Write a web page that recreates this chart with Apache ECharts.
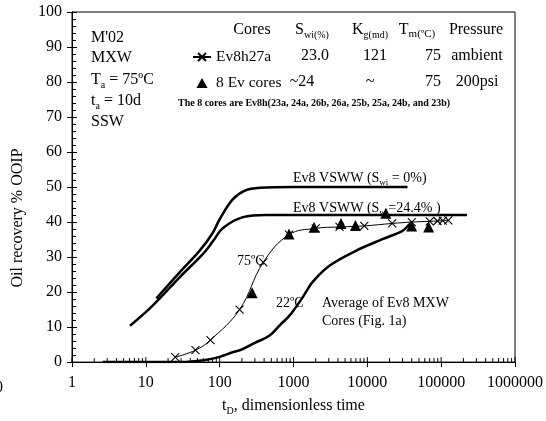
<!DOCTYPE html>
<html>
<head>
<meta charset="utf-8">
<script src="https://cdn.jsdelivr.net/npm/echarts@6/dist/echarts.min.js"></script>
<style>
  html, body { margin: 0; padding: 0; background: #fff; }
  #chart { width: 546px; height: 421px; }
</style>
</head>
<body>
<div id="chart"></div>
<script>
const FONT = '"Liberation Serif", "Times New Roman", serif';

// Ev8 VSWW reference curves [tD, recovery %]
const vsww0 = [[13.9, 18.2], [28.9, 25.7], [54, 31.9], [80, 36.8], [100, 40.8], [150, 46.5], [220, 49], [350, 49.8], [1000, 50], [35000, 50]];
const vsww244 = [[6.1, 10.4], [11.9, 15.8], [28.9, 24.3], [60, 31.0], [81, 34.5], [111, 38.3], [207, 41.4], [430, 42], [224000, 42]];

// Average of Ev8 MXW cores at 22 ºC
const avg22 = [[2.6, 0], [30, 0], [60, 0.5], [100, 1.5], [150, 2.8], [200, 3.6], [300, 5.5], [470, 7.5], [650, 10.5], [900, 13.5], [1340, 18.6], [1820, 22.9], [3100, 27.6], [7000, 31.8], [16000, 35.1], [30000, 37.5], [37000, 39.3], [40000, 40]];

// Ev8h27a at 75 ºC
const ev27aT = [25, 47, 75, 186, 390, 870, 2000, 4200, 9100, 21700, 40000, 70000, 89000, 105000, 125000];
const ev27aR = [1.4, 3.4, 6.3, 15.0, 28.5, 36.4, 38.2, 38.6, 38.9, 39.6, 40.0, 40.2, 40.3, 40.4, 40.5];

// 8 Ev cores at 75 ºC, 200 psi
const coresT = [275, 870, 1900, 4400, 6900, 17800, 39800, 67700];
const coresR = [19.8, 36.6, 38.5, 39.6, 39.0, 42.5, 38.9, 38.6];

// log-axis tick marks drawn on the inner side: [tD, 0, length]
const innerTicks = [];
for (let k = 0; k <= 6; k++) {
  const base = Math.pow(10, k);
  innerTicks.push([base, 0, 5]);
  if (k < 6) for (let m = 2; m <= 9; m++) innerTicks.push([m * base, 0, 4]);
}

const zip = (xs, ys) => xs.map((x, i) => [x, ys[i]]);
const sub = { fontSize: 10, fontFamily: FONT, lineHeight: 11, verticalAlign: 'bottom', fill: '#000' };
const crossPath = 'path://M0,0L10,10M0,10L10,0';
const triPath = 'path://M5,0L10,9L0,9Z';

function txt(x, y, text, opts) {
  opts = opts || {};
  return {
    type: 'text', x: x, y: y, z: 50,
    style: {
      text: text,
      fill: '#000',
      fontFamily: FONT,
      fontSize: opts.size || 16,
      fontWeight: opts.weight || 'normal',
      align: opts.align || 'left',
      verticalAlign: 'middle',
      lineHeight: opts.lh || 20,
      rich: { s: Object.assign({}, sub, opts.sub || {}) }
    }
  };
}

const chart = echarts.init(document.getElementById('chart'));
chart.setOption({
  animation: false,
  backgroundColor: '#fff',
  grid: { left: 72, right: 30, top: 12, bottom: 55, show: true, borderColor: '#000', borderWidth: 1 },
  xAxis: {
    type: 'log', logBase: 10, min: 1, max: 1000000,
    name: 't{s|D}, dimensionless time',
    nameLocation: 'middle', nameGap: 32,
    nameTextStyle: { color: '#000', fontFamily: FONT, fontSize: 16, lineHeight: 20,
      rich: { s: { fontSize: 10, fontFamily: FONT, lineHeight: 11, verticalAlign: 'bottom', color: '#000' } } },
    axisLine: { lineStyle: { color: '#000', width: 1 } },
    axisTick: { show: true, length: 5, lineStyle: { color: '#000' } },
    axisLabel: { color: '#000', fontFamily: FONT, fontSize: 16, margin: 13, formatter: v => String(Math.round(v)) },
    splitLine: { show: false }
  },
  yAxis: [{
    type: 'value', min: 0, max: 100, interval: 10,
    axisLine: { show: true, lineStyle: { color: '#000', width: 1 } },
    axisTick: { show: true, length: 5, lineStyle: { color: '#000' } },
    axisLabel: { color: '#000', fontFamily: FONT, fontSize: 16, margin: 10 },
    splitLine: { show: false }
  }, {
    type: 'value', min: 0, max: 100, interval: 10, position: 'left',
    axisLine: { show: false },
    axisTick: { show: true, inside: true, length: 5, lineStyle: { color: '#000' } },
    minorTick: { show: true, splitNumber: 5, length: 4, lineStyle: { color: '#000' } },
    axisLabel: { show: false },
    splitLine: { show: false }
  }],
  legend: {
    data: ['Ev8h27a', { name: '8 Ev cores', icon: triPath }],
    orient: 'vertical', left: 187, top: 44,
    itemWidth: 18, itemHeight: 10, itemGap: 10,
    symbolKeepAspect: true,
    textStyle: { color: '#000', fontFamily: FONT, fontSize: 15.5 }
  },
  series: [
    { name: 'Ev8 VSWW Swi=0%', type: 'line', data: vsww0, smooth: 0.35, showSymbol: false, symbol: 'none',
      lineStyle: { color: '#000', width: 2.5 }, z: 3 },
    { name: 'Ev8 VSWW Swi=24.4%', type: 'line', data: vsww244, smooth: 0.35, showSymbol: false, symbol: 'none',
      lineStyle: { color: '#000', width: 2.5 }, z: 3 },
    { name: 'Average 22ºC', type: 'line', data: avg22, smooth: 0.35, showSymbol: false, symbol: 'none',
      lineStyle: { color: '#000', width: 2.5 }, z: 3 },
    { name: 'Ev8h27a', type: 'line', data: zip(ev27aT, ev27aR), smooth: 0.4,
      symbol: crossPath, symbolSize: 8, showSymbol: true,
      itemStyle: { color: '#000', borderColor: '#000', borderWidth: 1.1 },
      lineStyle: { color: '#000', width: 1 }, z: 4 },
    { name: '8 Ev cores', type: 'scatter', data: zip(coresT, coresR),
      symbol: 'triangle', symbolSize: 11, itemStyle: { color: '#000', opacity: 1 }, z: 5 },
    { name: 'ticks', type: 'custom', data: innerTicks, encode: { x: 0, y: 1 }, silent: true, clip: false, z: 6,
      renderItem: (params, api) => {
        const p = api.coord([api.value(0), 0]);
        const len = api.value(2);
        return { type: 'line', shape: { x1: p[0], y1: p[1], x2: p[0], y2: p[1] - len },
          style: { stroke: '#000', lineWidth: 1 } };
      } }
  ],
  graphic: [
    // y-axis title
    Object.assign(txt(18, 218, 'Oil recovery % OOIP', { align: 'center' }), { rotation: Math.PI / 2 }),
    // clipped label at the left edge
    txt(3, 388, '0', { align: 'right' }),
    // test conditions
    txt(91, 38, "M'02"),
    txt(91, 58, 'MXW'),
    txt(91, 80, 'T{s|a} = 75ºC'),
    txt(91, 101, 't{s|a} = 10d'),
    txt(91, 122, 'SSW'),
    // legend table
    txt(252, 30, 'Cores', { align: 'center' }),
    txt(312, 30, 'S{s|wi(%)}', { align: 'center' }),
    txt(370, 30, 'K{s|g(md)}', { align: 'center' }),
    txt(417, 30, 'T{s|m(ºC)}', { align: 'center', sub: { fontSize: 11 } }),
    txt(476, 30, 'Pressure', { align: 'center' }),
    txt(315, 56, '23.0', { align: 'center' }),
    txt(375, 56, '121', { align: 'center' }),
    txt(433, 56, '75', { align: 'center' }),
    txt(477, 56, 'ambient', { align: 'center' }),
    txt(302, 82, '~24', { align: 'center' }),
    txt(370, 82, '~', { align: 'center' }),
    txt(433, 82, '75', { align: 'center' }),
    txt(477, 82, '200psi', { align: 'center' }),
    txt(178, 103, 'The 8 cores are Ev8h(23a, 24a, 26b, 26a, 25b, 25a, 24b, and 23b)', { size: 10, weight: 'bold', lh: 12 }),
    // curve annotations
    txt(293, 178, 'Ev8 VSWW (S{s|wi} = 0%)', { size: 14, lh: 18, sub: { fontSize: 9, lineHeight: 10 } }),
    txt(293, 208, 'Ev8 VSWW (S{s|wi}=24.4% )', { size: 14, lh: 18, sub: { fontSize: 9, lineHeight: 10 } }),
    txt(237, 261, '75ºC', { size: 14 }),
    txt(276, 303, '22ºC', { size: 14 }),
    txt(322, 303, 'Average of Ev8 MXW', { size: 14 }),
    txt(322, 321, 'Cores (Fig. 1a)', { size: 14 })
  ]
});
</script>
</body>
</html>
